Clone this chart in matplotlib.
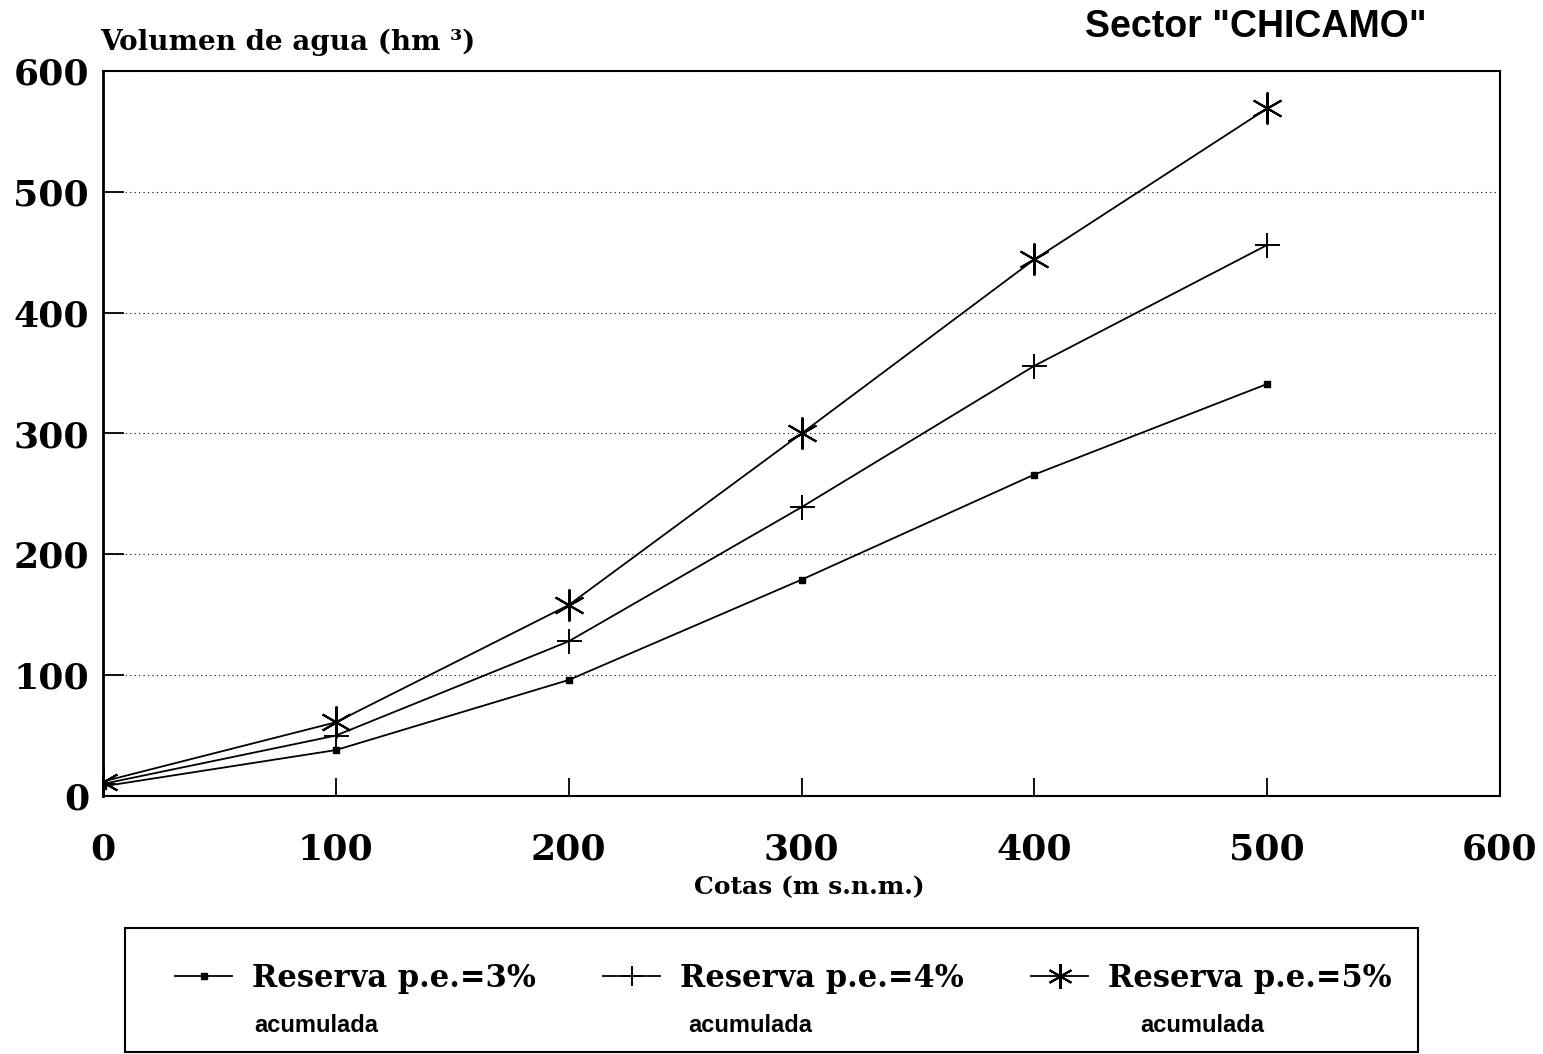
import matplotlib
matplotlib.use("Agg")
import matplotlib.pyplot as plt
from matplotlib.patches import Rectangle

# Values
cotas = [0, 100, 200, 300, 400, 500]
reserva_3 = [8, 38, 96, 179, 266, 341]
reserva_4 = [10, 50, 128, 239, 356, 456]
reserva_5 = [12, 61, 158, 300, 444, 569]

series_labels = ["Reserva p.e.=3%", "Reserva p.e.=4%", "Reserva p.e.=5%"]
sub_label = "acumulada"
x_ticks = [0, 100, 200, 300, 400, 500, 600]
y_ticks = [0, 100, 200, 300, 400, 500, 600]

W, H = 1543, 1054
serif = "DejaVu Serif"
sans = "Liberation Sans"

# six-armed asterisk (vertical bar + two diagonals)
asterisk = (6, 2, 0)

fig = plt.figure(figsize=(W / 100, H / 100), dpi=100)
ax = fig.add_axes([103 / W, 1 - 796 / H, (1500 - 103) / W, (796 - 71) / H])

l3, = ax.plot(cotas, reserva_3, color="black", lw=1.3, marker="s", ms=4,
              mfc="black", mec="black")
l4, = ax.plot(cotas, reserva_4, color="black", lw=1.3, marker="+", ms=18, mew=1.4)
l5, = ax.plot(cotas, reserva_5, color="black", lw=1.3, marker=asterisk, ms=23,
              mew=1.5, mfc="none", mec="black")

ax.set_xlim(0, 600)
ax.set_ylim(0, 600)
ax.set_xticks(x_ticks)
ax.set_yticks(y_ticks)
ax.tick_params(axis="y", direction="in", length=15, width=1.3, pad=10)
ax.tick_params(axis="x", direction="in", length=13, width=1.3, pad=26)
for lab in ax.get_xticklabels() + ax.get_yticklabels():
    lab.set_fontfamily(serif)
    lab.set_fontweight("bold")
    lab.set_fontsize(26)

ax.yaxis.grid(True, linestyle=(0, (1, 3)), color="black", lw=0.8)
for s in ax.spines.values():
    s.set_linewidth(1.5)
ax.spines["left"].set_linewidth(2)

fig.text(100 / W, 1 - 42 / H, "Volumen de agua (hm ³)", family=serif,
         weight="bold", fontsize=20, ha="left", va="center")
fig.text(809 / W, 1 - 887 / H, "Cotas (m s.n.m.)", family=serif,
         weight="bold", fontsize=18, ha="center", va="center")
fig.text(1256 / W, 1 - 27 / H, 'Sector "CHICAMO"', family=sans,
         weight="bold", fontsize=27, ha="center", va="center")

# legend box
fig.patches.append(Rectangle((125 / W, 1 - 1052 / H), (1418 - 125) / W, (1052 - 928) / H,
                             transform=fig.transFigure, fill=False,
                             edgecolor="black", lw=1.5))
leg = fig.legend([l3, l4, l5], series_labels, loc="center left",
                 bbox_to_anchor=(175 / W, 1 - 978 / H), ncol=3, frameon=False,
                 prop={"family": serif, "weight": "bold", "size": 22},
                 handlelength=1.87, handletextpad=0.65, columnspacing=2.2,
                 borderpad=0, borderaxespad=0)
for i, h in enumerate(leg.legend_handles):
    h.set_markersize([4, 14, 18][i])

for xc in [316, 750, 1202]:
    fig.text(xc / W, 1 - 1025 / H, sub_label, family=sans, weight="bold",
             fontsize=17, ha="center", va="center")

fig.savefig("out.png", dpi=100)
